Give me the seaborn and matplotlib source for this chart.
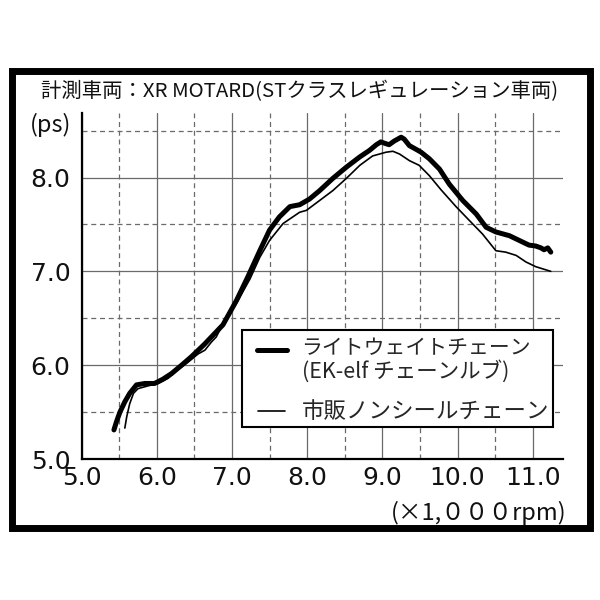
import matplotlib
matplotlib.use("Agg")
import matplotlib.pyplot as plt
from matplotlib.ticker import MultipleLocator, FormatStrFormatter
from matplotlib.patches import Rectangle
from matplotlib.lines import Line2D
import matplotlib.transforms as mtransforms
import seaborn as sns
import pandas as pd

# ---- data ----
light_rpm = [5.43, 5.465, 5.51, 5.575, 5.64, 5.73, 5.84, 5.97, 6.08, 6.195, 6.33, 6.46,
             6.63, 6.88, 7.06, 7.21, 7.37, 7.50, 7.63, 7.77, 7.90, 8.03, 8.165, 8.34,
             8.52, 8.70, 8.83, 8.92, 8.98, 9.05, 9.09, 9.16, 9.25, 9.29, 9.36, 9.45,
             9.515, 9.625, 9.76, 9.89, 10.07, 10.25, 10.38, 10.51, 10.69, 10.82, 10.95,
             11.04, 11.11, 11.15, 11.20, 11.24]
light_ps = [5.31, 5.40, 5.50, 5.61, 5.70, 5.79, 5.805, 5.805, 5.85, 5.91, 6.00, 6.09,
            6.22, 6.43, 6.69, 6.94, 7.22, 7.44, 7.58, 7.69, 7.71, 7.77, 7.86, 7.99,
            8.11, 8.22, 8.29, 8.35, 8.38, 8.36, 8.35, 8.39, 8.43, 8.41, 8.34, 8.30,
            8.27, 8.20, 8.09, 7.93, 7.755, 7.61, 7.47, 7.42, 7.38, 7.33, 7.28,
            7.27, 7.25, 7.23, 7.25, 7.205]
std_rpm = [5.575, 5.60, 5.64, 5.69, 5.75, 5.885, 6.02, 6.15, 6.28, 6.42, 6.55, 6.64,
           6.73, 6.79, 6.88, 7.06, 7.24, 7.37, 7.50, 7.68, 7.90, 7.99, 8.165, 8.34,
           8.52, 8.70, 8.87, 9.05, 9.14, 9.23, 9.36, 9.49, 9.625, 9.78, 9.98,
           10.16, 10.33, 10.51, 10.64, 10.78, 10.91, 11.04, 11.24]
std_ps = [5.33, 5.45, 5.59, 5.70, 5.75, 5.78, 5.805, 5.86, 5.95, 6.035, 6.12, 6.16,
          6.25, 6.30, 6.44, 6.66, 6.92, 7.15, 7.33, 7.51, 7.63, 7.65, 7.755, 7.86,
          7.99, 8.13, 8.23, 8.27, 8.28, 8.25, 8.18, 8.13, 8.02, 7.87, 7.69,
          7.54, 7.40, 7.22, 7.205, 7.17, 7.10, 7.05, 7.00]

title = "計測車両：XR MOTARD(STクラスレギュレーション車両)"
label_light_1 = "ライトウェイトチェーン"
label_light_2 = "(EK-elf チェーンルブ)"
label_std = "市販ノンシールチェーン"
y_unit = "(ps)"
x_unit = "(×1,０００rpm)"

sns.set_theme(style="white")
plt.rcParams["font.family"] = ["Noto Sans CJK JP", "DejaVu Sans"]

fig = plt.figure(figsize=(6, 6), dpi=100)
fig.patch.set_facecolor("white")
ax = fig.add_axes([0.136, 0.235, 0.802, 0.577])

df_light = pd.DataFrame({"rpm": light_rpm, "ps": light_ps})
df_std = pd.DataFrame({"rpm": std_rpm, "ps": std_ps})
sns.lineplot(data=df_light, x="rpm", y="ps", sort=False, color="black", lw=3.6,
             ax=ax, zorder=4, solid_joinstyle="round", solid_capstyle="round")
sns.lineplot(data=df_std, x="rpm", y="ps", sort=False, color="black", lw=1.2,
             ax=ax, zorder=3, solid_joinstyle="round")

ax.set_xlim(5.0, 11.4)
ax.set_ylim(5.0, 8.69)
ax.xaxis.set_major_locator(MultipleLocator(1))
ax.xaxis.set_minor_locator(MultipleLocator(0.5))
ax.yaxis.set_major_locator(MultipleLocator(1))
ax.yaxis.set_minor_locator(MultipleLocator(0.5))
ax.xaxis.set_major_formatter(FormatStrFormatter("%.1f"))
ax.yaxis.set_major_formatter(FormatStrFormatter("%.1f"))
ax.grid(which="major", color="#6a6a6a", lw=0.9, ls="-")
ax.grid(which="minor", color="#6a6a6a", lw=0.9, ls=(0, (4, 3)))
ax.set_axisbelow(True)
ax.set_xlabel("")
ax.set_ylabel("")
for s in ["top", "right"]:
    ax.spines[s].set_visible(False)
for s in ["left", "bottom"]:
    ax.spines[s].set_color("black")
    ax.spines[s].set_linewidth(1.6)
ax.tick_params(which="both", length=0)
ax.tick_params(axis="y", pad=8)
ax.tick_params(axis="x", pad=5)
for t in ax.get_xticklabels() + ax.get_yticklabels():
    t.set_fontfamily("DejaVu Sans")
    t.set_fontsize(18)
    t.set_color("#111111")

# axis unit labels
trans = mtransforms.blended_transform_factory(ax.transAxes, ax.transData)
ax.text(-0.022, 8.56, y_unit, transform=trans, ha="right", va="center",
        fontsize=17, color="#111111")
ax.text(1.008, -0.157, x_unit, transform=ax.transAxes, ha="right", va="center",
        fontsize=17, color="#111111")

# legend box
ax.add_patch(Rectangle((0.3324, 0.0933), 0.6462, 0.2792, transform=ax.transAxes,
                       facecolor="white", edgecolor="black", lw=1.5, zorder=6))
ax.add_line(Line2D([0.3636, 0.4259], [0.3148, 0.3148], transform=ax.transAxes,
                   color="black", lw=3.6, zorder=7))
ax.add_line(Line2D([0.366, 0.4224], [0.1395, 0.1395], transform=ax.transAxes,
                   color="black", lw=1.2, zorder=7))
ax.text(0.4571, 0.3205, label_light_1, transform=ax.transAxes, ha="left", va="center",
        fontsize=15, zorder=8)
ax.text(0.4571, 0.2527, label_light_2, transform=ax.transAxes, ha="left", va="center",
        fontsize=15.5, zorder=8)
ax.text(0.4571, 0.1386, label_std, transform=ax.transAxes, ha="left", va="center",
        fontsize=16.2, zorder=8)

# title and outer frame
fig.text(0.5, 1 - 91 / 600, title, ha="center", va="center", fontsize=14.7, color="#111111")
fig.patches.append(Rectangle((11.5 / 600, 1 - 528 / 600), (590 - 11.5) / 600,
                             (528 - 71) / 600, transform=fig.transFigure,
                             facecolor="none", edgecolor="black", lw=5))

fig.savefig("out.png", dpi=100, facecolor="white")
